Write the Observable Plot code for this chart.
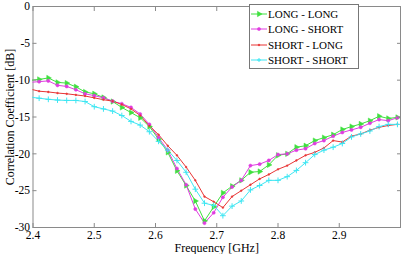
<!DOCTYPE html>
<html>
<head>
<meta charset="utf-8">
<script src="https://cdn.jsdelivr.net/npm/d3@7"></script>
<script src="https://cdn.jsdelivr.net/npm/@observablehq/plot@0.6"></script>
<style>
  html, body { margin: 0; padding: 0; background: #fff; }
  #chart { position: relative; width: 403px; height: 254px; }
  #legend {
    position: absolute; left: 249px; top: 4px; width: 110px; height: 65px;
    box-sizing: border-box; border: 1px solid #777; background: #fff;
    font-family: "Liberation Serif", Tinos, "Times New Roman", Times, serif;
    font-size: 11px; color: #000;
    padding-top: 1px;
  }
  #legend .row { display: flex; align-items: center; height: 15.5px; white-space: nowrap; }
  #legend svg { display: block; margin: 0 1px 0 1px; }
</style>
</head>
<body>
<div id="chart"><div id="legend"></div></div>
<script>
// Frequency grid [GHz]
const freq = [
  2.395, 2.410, 2.425, 2.440, 2.455, 2.470, 2.485, 2.500, 2.515, 2.530,
  2.545, 2.560, 2.575, 2.590, 2.605, 2.620, 2.635, 2.650, 2.665, 2.680,
  2.695, 2.710, 2.725, 2.740, 2.755, 2.770, 2.785, 2.800, 2.815, 2.830,
  2.845, 2.860, 2.875, 2.890, 2.905, 2.920, 2.935, 2.950, 2.965, 2.980, 2.995
];

// Correlation coefficient [dB] for each antenna combination
const longLong = [
  -10.0, -9.9, -9.7, -10.3, -10.4, -10.9, -11.6, -11.85, -12.35, -12.9,
  -13.7, -14.4, -15.1, -16.3, -18.0, -19.8, -22.3, -24.3, -26.4, -29.1,
  -27.2, -25.3, -24.4, -23.6, -22.5, -22.4, -21.5, -20.2, -20.0, -19.1,
  -18.9, -18.2, -17.8, -17.4, -16.7, -16.3, -15.95, -15.5, -14.9, -15.2, -15.05
];
const longShort = [
  -10.3, -10.2, -10.1, -10.7, -10.85, -11.3, -11.85, -12.1, -12.4, -12.85,
  -13.2, -13.7, -14.6, -16.0, -17.8, -19.5, -22.0, -24.2, -27.5, -29.4,
  -28.0, -25.9, -24.5, -23.6, -21.6, -21.4, -20.9, -20.1, -20.0, -19.5,
  -19.3, -18.6, -18.2, -17.6, -17.1, -16.75, -16.4, -15.85, -15.35, -15.5, -15.1
];
const shortLong = [
  -11.2, -11.5, -11.6, -11.75, -11.85, -12.0, -12.15, -12.4, -12.65, -12.85,
  -13.3, -13.9, -14.8, -16.2, -17.4, -18.9, -20.2, -21.8, -23.6, -25.8,
  -26.5, -27.3, -25.8, -25.0, -24.2, -23.4, -22.8, -22.1, -21.6, -20.9,
  -20.2, -19.8, -19.2, -18.2, -18.4, -17.6, -17.3, -16.8, -16.4, -16.15, -16.0
];
const shortShort = [
  -12.3, -12.45, -12.6, -12.7, -12.75, -12.75, -12.9, -13.6, -13.9, -14.2,
  -14.8, -15.6, -16.1, -17.0, -18.3, -19.5, -20.9, -22.5, -24.8, -26.7,
  -27.0, -28.4, -27.1, -26.4, -24.9, -24.3, -23.6, -23.6, -23.1, -22.25,
  -21.2, -20.1, -19.5, -19.1, -18.6, -17.7, -17.3, -16.9, -16.3, -16.0, -16.0
];

const seriesNames = ["LONG - LONG", "LONG - SHORT", "SHORT - LONG", "SHORT - SHORT"];
const seriesValues = [longLong, longShort, shortLong, shortShort];
const seriesColors = ["#3fe03f", "#e03ce0", "#e83535", "#3ee6f2"];
const seriesSymbols = ["triangle", "circle", "circle", "plus"];
const seriesRadius = [2.0, 1.6, 0.9, 2.0];
const seriesRotate = [90, 0, 0, 0];

const xTicks = [2.4, 2.5, 2.6, 2.7, 2.8, 2.9];
const yTicks = [0, -5, -10, -15, -20, -25, -30];

const serif = "'Liberation Serif', Tinos, 'Times New Roman', Times, serif";
const axisGray = "#8a8a8a";

const rows = seriesValues.map(vals => freq.map((f, i) => ({f, v: vals[i]})));

const marks = [Plot.frame({stroke: axisGray})];
rows.forEach((data, k) => {
  marks.push(Plot.line(data, {x: "f", y: "v", stroke: seriesColors[k], strokeWidth: 1, clip: true}));
});
rows.forEach((data, k) => {
  const stroked = seriesSymbols[k] === "plus";
  marks.push(Plot.dot(data, {
    x: "f", y: "v", symbol: () => seriesSymbols[k], r: seriesRadius[k],
    rotate: seriesRotate[k],
    fill: stroked ? "none" : seriesColors[k],
    stroke: seriesColors[k], strokeWidth: stroked ? 1 : 0.5, clip: true
  }));
});

// Axes with inward ticks on all four sides
marks.push(
  Plot.axisX({ticks: xTicks, tickSize: -4, tickPadding: 7, stroke: axisGray, tickFormat: d3.format(".1f"), label: null}),
  Plot.axisX({ticks: xTicks, anchor: "top", tickSize: -4, stroke: axisGray, fill: "none", label: null}),
  Plot.axisY({ticks: yTicks, tickSize: -4, tickPadding: 7, stroke: axisGray, tickFormat: d => String(d), label: null}),
  Plot.axisY({ticks: yTicks, anchor: "right", tickSize: -4, stroke: axisGray, fill: "none", label: null}),
  Plot.text(["Correlation Coefficient [dB]"], {frameAnchor: "left", rotate: -90, dx: -23, lineAnchor: "middle", textAnchor: "middle", fontSize: 12}),
  Plot.text(["Frequency [GHz]"], {frameAnchor: "bottom", dy: 21, lineAnchor: "middle", textAnchor: "middle", fontSize: 12})
);

const chart = Plot.plot({
  width: 403,
  height: 254,
  marginLeft: 32.5,
  marginRight: 3,
  marginTop: 6,
  marginBottom: 27,
  style: {fontFamily: serif, fontSize: "11.5px", color: "#000", background: "#fff"},
  x: {domain: [2.4, 3.0]},
  y: {domain: [-30, 0]},
  marks
});
document.getElementById("chart").prepend(chart);

// Legend entries
const legend = document.getElementById("legend");
const d3Symbols = {triangle: d3.symbolTriangle, circle: d3.symbolCircle};
seriesNames.forEach((name, k) => {
  const row = document.createElement("div");
  row.className = "row";
  const c = seriesColors[k];
  const stroked = seriesSymbols[k] === "plus";
  const marker = stroked
    ? `<path d="M6,5H10M8,3V7" fill="none" stroke="${c}" stroke-width="1"/>`
    : `<path d="${d3.symbol(d3Symbols[seriesSymbols[k]], Math.PI * seriesRadius[k] ** 2)()}" transform="translate(8,5) rotate(${seriesRotate[k]})" fill="${c}" stroke="${c}" stroke-width="0.5"/>`;
  row.innerHTML =
    `<svg width="16" height="10"><line x1="0" x2="16" y1="5" y2="5" stroke="${c}" stroke-width="1"/>${marker}</svg>` +
    `<span>${name}</span>`;
  legend.appendChild(row);
});
</script>
</body>
</html>
